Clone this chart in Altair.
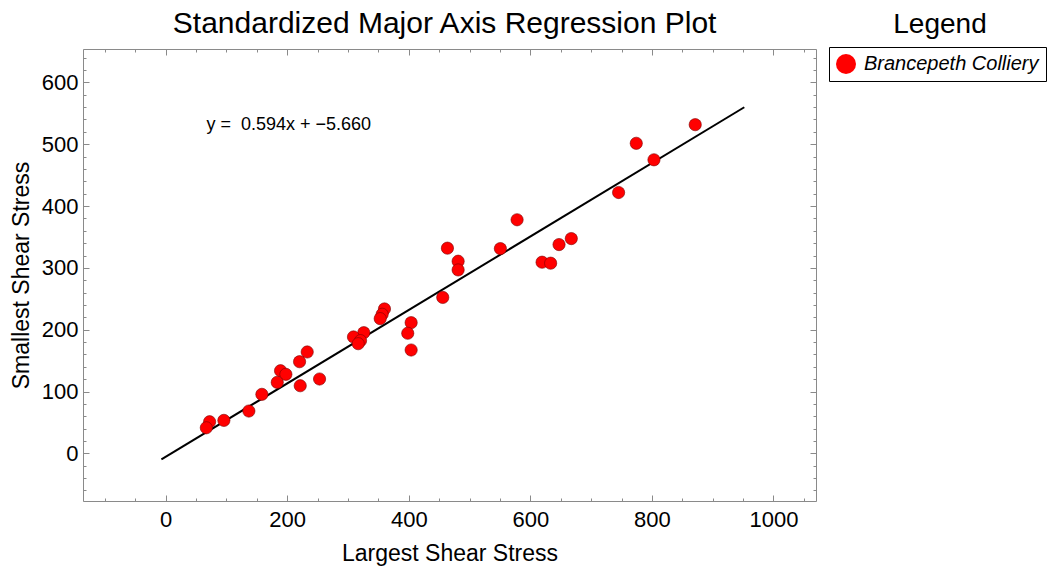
import altair as alt
import pandas as pd

FONT = "Liberation Sans, Arial, sans-serif"

# ---- data ----
series_name = "Brancepeth Colliery"
largest = [871.3, 774.3, 803.4, 745.2, 578.2, 463.6, 550.7, 481.2, 481.2, 667.4, 647.2, 619.3,
           633.4, 455.9, 403.9, 398.3, 403.9, 360.0, 356.2, 353.0, 326.0, 309.0, 320.6, 316.8,
           232.9, 220.3, 189.0, 197.8, 183.6, 221.4, 253.2, 158.3, 136.9, 95.8, 72.3, 66.9]
smallest = [531.6, 501.5, 474.8, 421.9, 377.8, 331.9, 331.2, 310.8, 296.7, 347.4, 337.7, 309.2,
            307.6, 252.2, 211.4, 194.3, 167.2, 233.6, 225.0, 217.9, 195.2, 188.3, 182.3, 177.4,
            164.0, 148.3, 133.7, 127.9, 114.9, 109.4, 120.3, 95.5, 68.5, 53.4, 51.2, 41.4]
# regression line y = 0.594x - 5.660, end points
line_x = [-7.0, 952.0]
line_y = [-9.8, 559.8]
equation = "y =\u00a0 0.594x + \u22125.660"
title_text = "Standardized Major Axis Regression Plot"
legend_title = "Legend"
x_title = "Largest Shear Stress"
y_title = "Smallest Shear Stress"
x_ticks = list(range(-100, 1051, 50))
y_ticks = list(range(-60, 641, 20))
x_domain = [-136, 1070]
y_domain = [-77, 654]

df = pd.DataFrame({"Largest": largest, "Smallest": smallest, "Series": [series_name] * len(largest)})
df_line = pd.DataFrame({"lx": line_x, "ly": line_y})

x_scale = alt.Scale(domain=x_domain, nice=False, zero=False)
y_scale = alt.Scale(domain=y_domain, nice=False, zero=False)

FRAME = "#8a8a8a"
common = dict(domainColor=FRAME, tickColor=FRAME, domainWidth=1, tickWidth=1, grid=False,
              labelFont=FONT, titleFont=FONT, labelColor="black", titleColor="black",
              titleFontWeight="normal", labelOverlap=False, labelFlush=False)

x_axis = alt.Axis(values=x_ticks, format="d", orient="bottom",
                  tickSize=alt.ExprRef(expr="datum.value % 200 === 0 ? -6 : -3"),
                  labelExpr="datum.value % 200 === 0 ? datum.label : ''",
                  labelPadding=14, labelFontSize=22, title=x_title, titleFontSize=23,
                  titlePadding=9, **common)
y_axis = alt.Axis(values=y_ticks, format="d", orient="left",
                  tickSize=alt.ExprRef(expr="datum.value % 100 === 0 ? -6 : -3"),
                  labelExpr="datum.value % 100 === 0 ? datum.label : ''",
                  labelPadding=11, labelFontSize=22, title=y_title, titleFontSize=23,
                  titlePadding=8, **common)
x_axis_top = alt.Axis(values=x_ticks, orient="top", labels=False, title=None,
                      tickSize=alt.ExprRef(expr="datum.value % 200 === 0 ? -6 : -3"), **common)
y_axis_right = alt.Axis(values=y_ticks, orient="right", labels=False, title=None,
                        tickSize=alt.ExprRef(expr="datum.value % 100 === 0 ? -6 : -3"), **common)

line = alt.Chart(df_line).mark_line(color="black", strokeWidth=2).encode(
    x=alt.X("lx:Q", scale=x_scale, axis=x_axis_top),
    y=alt.Y("ly:Q", scale=y_scale, axis=y_axis_right),
)

points = alt.Chart(df).mark_circle(size=150, opacity=1, stroke="#7a0000", strokeWidth=0.6).encode(
    x=alt.X("Largest:Q", scale=x_scale, axis=x_axis),
    y=alt.Y("Smallest:Q", scale=y_scale, axis=y_axis),
    color=alt.Color("Series:N", scale=alt.Scale(domain=[series_name], range=["#ff0000"]),
                    legend=alt.Legend(title=None, orient="none", legendX=746, legendY=-2,
                                      strokeColor="black", fillColor="white", padding=7,
                                      symbolType="circle", symbolSize=400, symbolStrokeWidth=0,
                                      labelFont=FONT, labelFontSize=20, labelFontStyle="italic",
                                      labelColor="black", labelOffset=8, labelLimit=400,
                                      cornerRadius=0)),
)

eq = alt.Chart(pd.DataFrame({"t": [equation]})).mark_text(
    font=FONT, fontSize=18, align="left", baseline="middle", color="black"
).encode(
    x=alt.X(datum=67, type="quantitative", scale=x_scale, axis=None),
    y=alt.Y(datum=531, type="quantitative", scale=y_scale, axis=None),
    text="t:N",
)

main_title = alt.Chart(pd.DataFrame({"t": [title_text]})).mark_text(
    font=FONT, fontSize=30, align="center", baseline="alphabetic", color="black"
).encode(x=alt.value(361.6), y=alt.value(-16), text="t:N")

leg_title = alt.Chart(pd.DataFrame({"t": [legend_title]})).mark_text(
    font=FONT, fontSize=28, align="center", baseline="alphabetic", color="black"
).encode(x=alt.value(857), y=alt.value(-16), text="t:N")

chart = alt.layer(line, points, eq, main_title, leg_title).resolve_axis(
    x="independent", y="independent"
).properties(
    width=733, height=452, autosize="none",
    padding={"left": 83, "top": 49, "right": 237, "bottom": 69},
).configure_view(stroke=None).configure(background="white")

chart.save("out.html", embed_options={"renderer": "svg", "actions": False})
